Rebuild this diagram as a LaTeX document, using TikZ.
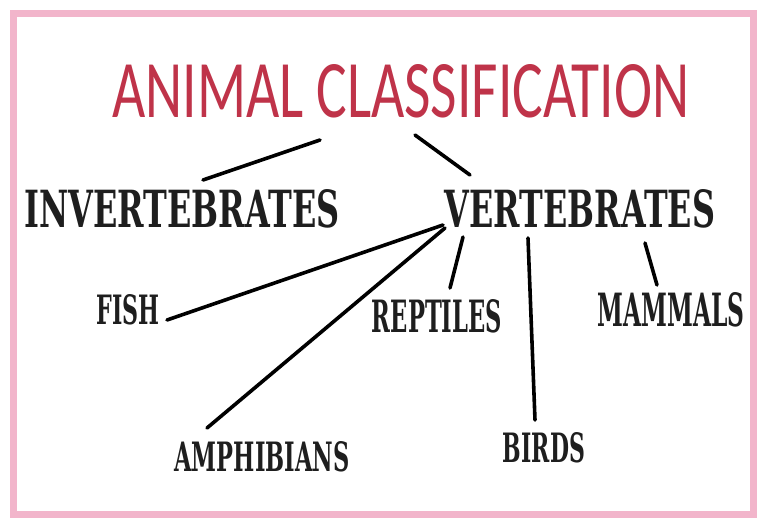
\documentclass[tikz,border=0pt]{standalone}
\usepackage{fontspec}
\usepackage{graphicx}
\usetikzlibrary{calc}
\setmainfont{DejaVu Serif}
\newfontfamily\titlefont{Carlito}
\newcommand\fitbox[3]{\resizebox{#1pt}{#2pt}{#3}}
\definecolor{borderpink}{HTML}{F2B5CB}
\definecolor{titlered}{HTML}{BF3349}
\definecolor{inkblack}{HTML}{1E1E1E}
\tikzset{
  lab/.style={inner sep=0pt, outer sep=0pt, text=inkblack, font=\bfseries},
  ttl/.style={inner sep=0pt, outer sep=0pt, text=titlered, font=\titlefont},
  conn/.style={draw=black, line width=3.6pt, line cap=round},
  frame/.style={draw=borderpink, line width=7pt}
}
\begin{document}
\begin{tikzpicture}[x=1pt, y=-1pt]
\useasboundingbox (0,0) rectangle (766,520);
\fill[white] (0,0) rectangle (766,520);
\draw[frame] (13.5,13.5) rectangle (753.5,514.5);

\node[ttl] (title) at (401,91) {\fitbox{577}{53}{ANIMAL CLASSIFICATION}};
\node[lab] (inv) at (182,209) {\fitbox{315}{38}{INVERTEBRATES}};
\node[lab] (vert) at (580,209) {\fitbox{270}{38}{VERTEBRATES}};
\node[lab] (fish) at (128,310) {\fitbox{63}{30}{FISH}};
\node[lab] (rept) at (437,316) {\fitbox{130}{33}{REPTILES}};
\node[lab] (mam) at (671,310) {\fitbox{147}{34}{MAMMALS}};
\node[lab] (amph) at (262,457) {\fitbox{175}{30}{AMPHIBIANS}};
\node[lab] (birds) at (544,448) {\fitbox{82}{30}{BIRDS}};

\draw[conn] ($(title)+(-81,49)$) -- ($(inv)+(21,-29)$);
\draw[conn] ($(title)+(14,44)$) -- ($(vert)+(-110,-34)$);
\draw[conn] ($(vert)+(-137,16)$) -- ($(fish)+(39,10)$);
\draw[conn] ($(vert)+(-135,19)$) -- ($(amph)+(-55,-29)$);
\draw[conn] ($(vert)+(-117,28)$) -- ($(rept)+(13,-28)$);
\draw[conn] ($(vert)+(-52,29)$) -- ($(birds)+(-9,-28)$);
\draw[conn] ($(vert)+(65,34)$) -- ($(mam)+(-14,-25)$);
\end{tikzpicture}
\end{document}
